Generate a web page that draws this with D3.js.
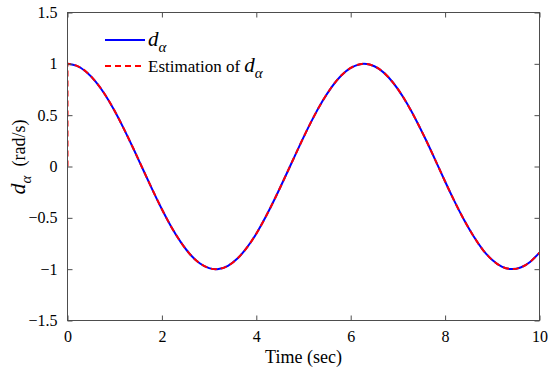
<!DOCTYPE html>
<html>
<head>
<meta charset="utf-8">
<script src="https://cdn.jsdelivr.net/npm/d3@7"></script>
<style>
  html, body { margin: 0; padding: 0; background: #fff; }
  svg { display: block; }
</style>
</head>
<body>
<svg id="chart" width="550" height="371" font-family="Liberation Serif"></svg>
<script>
// ---- data ----
const timeSec = [0,0.2,0.4,0.6,0.8,1.0,1.2,1.4,1.6,1.8,2.0,2.2,2.4,2.6,2.8,3.0,3.2,3.4,3.6,3.8,4.0,4.2,4.4,4.6,4.8,5.0,5.2,5.4,5.6,5.8,6.0,6.2,6.4,6.6,6.8,7.0,7.2,7.4,7.6,7.8,8.0,8.2,8.4,8.6,8.8,9.0,9.2,9.4,9.6,9.8,10.0];
const dAlpha = [1.000,0.980,0.921,0.825,0.697,0.540,0.362,0.170,-0.029,-0.227,-0.416,-0.589,-0.737,-0.857,-0.942,-0.990,-0.998,-0.967,-0.897,-0.791,-0.654,-0.490,-0.307,-0.112,0.087,0.284,0.469,0.635,0.776,0.886,0.960,0.997,0.993,0.951,0.869,0.754,0.608,0.439,0.253,0.055,-0.146,-0.340,-0.519,-0.677,-0.811,-0.911,-0.975,-0.999,-0.984,-0.930,-0.839];
const estAlpha = [1.000,0.980,0.921,0.825,0.697,0.540,0.362,0.170,-0.029,-0.227,-0.416,-0.589,-0.737,-0.857,-0.942,-0.990,-0.998,-0.967,-0.897,-0.791,-0.654,-0.490,-0.307,-0.112,0.087,0.284,0.469,0.635,0.776,0.886,0.960,0.997,0.993,0.951,0.869,0.754,0.608,0.439,0.253,0.055,-0.146,-0.340,-0.519,-0.677,-0.811,-0.911,-0.975,-0.999,-0.984,-0.930,-0.839];
const estJumpTime = [0, 0];
const estJumpValue = [0, 1];
const xTicks = [0, 2, 4, 6, 8, 10];
const yTicks = [-1.5, -1, -0.5, 0, 0.5, 1, 1.5];

// ---- layout ----
const FONT = "Liberation Serif";
const svg = d3.select("#chart");
const L = 67.5, R = 539.5, T = 12.5, B = 320.5;
const x = d3.scaleLinear().domain([0, 10]).range([L, R]);
const y = d3.scaleLinear().domain([-1.5, 1.5]).range([B, T]);
const axisColor = "#4d4d4d";
const tickLen = 5;
const fmt = v => (v < 0 ? "\u2212" : "") + String(Math.abs(v));

svg.append("defs").append("clipPath").attr("id", "clip")
  .append("rect").attr("x", L).attr("y", T).attr("width", R - L).attr("height", B - T);

const g = svg.append("g").attr("clip-path", "url(#clip)");
const line = d3.line().x(d => x(d[0])).y(d => y(d[1])).curve(d3.curveNatural);
const lineLin = d3.line().x(d => x(d[0])).y(d => y(d[1]));

g.append("path")
  .attr("d", line(timeSec.map((t, i) => [t, dAlpha[i]])))
  .attr("fill", "none").attr("stroke", "#0000ff").attr("stroke-width", 2);

g.append("path")
  .attr("d", lineLin(estJumpTime.map((t, i) => [t, estJumpValue[i]])) + "L" +
        line(timeSec.map((t, i) => [t, estAlpha[i]])).slice(1))
  .attr("fill", "none").attr("stroke", "#ff0000").attr("stroke-width", 2)
  .attr("stroke-dasharray", "6,4");

// frame
svg.append("rect").attr("x", L).attr("y", T).attr("width", R - L).attr("height", B - T)
  .attr("fill", "none").attr("stroke", axisColor).attr("stroke-width", 1);

// axes (ticks inward)
const xAxisB = d3.axisBottom(x).tickValues(xTicks).tickSize(-tickLen).tickPadding(10).tickFormat(fmt);
const xAxisT = d3.axisTop(x).tickValues(xTicks).tickSize(-tickLen).tickFormat("");
const yAxisL = d3.axisLeft(y).tickValues(yTicks).tickSize(-tickLen).tickPadding(10).tickFormat(fmt);
const yAxisR = d3.axisRight(y).tickValues(yTicks).tickSize(-tickLen).tickFormat("");

function style(sel) {
  sel.attr("font-family", FONT).attr("font-size", 16);
  sel.select(".domain").remove();
  sel.selectAll(".tick line").attr("stroke", axisColor);
  sel.selectAll(".tick text").attr("font-family", FONT).attr("font-size", 16).attr("fill", "#000");
}
svg.append("g").attr("transform", `translate(0,${B})`).call(xAxisB).call(style);
svg.append("g").attr("transform", `translate(0,${T})`).call(xAxisT).call(style);
svg.append("g").attr("transform", `translate(${L},0)`).call(yAxisL).call(style);
svg.append("g").attr("transform", `translate(${R},0)`).call(yAxisR).call(style);

// x label
svg.append("text").attr("x", (L + R) / 2).attr("y", 363).attr("text-anchor", "middle")
  .attr("font-family", FONT).attr("font-size", 18).text("Time (sec)");

// y label
const yl = svg.append("text").attr("transform", "translate(25,157) rotate(-90)")
  .attr("text-anchor", "middle").attr("font-family", FONT).attr("font-size", 18);
yl.append("tspan").attr("font-style", "italic").attr("font-size", 22).text("d");
yl.append("tspan").attr("font-style", "italic").attr("font-size", 15).attr("dy", 6).text("\u03b1");
yl.append("tspan").attr("dy", -6).text("\u2002(rad/s)");

// legend
const legY1 = 40, legY2 = 66, lx0 = 105, lx1 = 145;
svg.append("line").attr("x1", lx0).attr("x2", lx1).attr("y1", legY1).attr("y2", legY1)
  .attr("stroke", "#0000ff").attr("stroke-width", 2);
svg.append("line").attr("x1", lx0).attr("x2", lx1).attr("y1", legY2).attr("y2", legY2)
  .attr("stroke", "#ff0000").attr("stroke-width", 2).attr("stroke-dasharray", "6,4");

const t1 = svg.append("text").attr("x", 148).attr("y", legY1 + 6).attr("font-family", FONT).attr("font-size", 17);
t1.append("tspan").attr("font-style", "italic").attr("font-size", 21).text("d");
t1.append("tspan").attr("font-style", "italic").attr("font-size", 15).attr("dy", 6).text("\u03b1");

const t2 = svg.append("text").attr("x", 148).attr("y", legY2 + 6).attr("font-family", FONT).attr("font-size", 17);
t2.append("tspan").text("Estimation of ");
t2.append("tspan").attr("font-style", "italic").attr("font-size", 21).text("d");
t2.append("tspan").attr("font-style", "italic").attr("font-size", 15).attr("dy", 6).text("\u03b1");
</script>
</body>
</html>
